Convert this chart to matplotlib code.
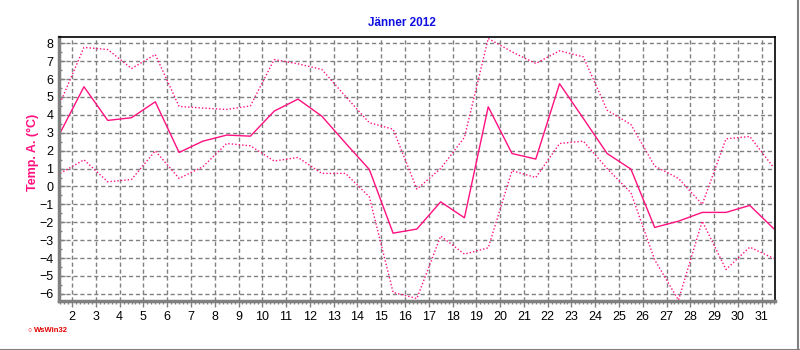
# Jänner 2012 - Temperatur (Mittel, Max, Min)

import matplotlib.pyplot as plt
import numpy as np
from matplotlib.ticker import MultipleLocator

plt.rcParams['font.family'] = ['Liberation Sans', 'DejaVu Sans']

# DATA (one value per day, 1..31)
days = np.arange(1, 32)
t_mean = [3.0, 5.57, 3.69, 3.84, 4.73, 1.90, 2.53, 2.87, 2.81, 4.21, 4.88,
          3.93, 2.42, 0.95, -2.61, -2.38, -0.86, -1.75, 4.45, 1.84, 1.53,
          5.74, 3.80, 1.84, 0.97, -2.29, -1.94, -1.45, -1.45, -1.06, -2.35]
t_max = [4.67, 7.77, 7.65, 6.59, 7.37, 4.47, 4.38, 4.30, 4.50, 7.09, 6.85,
         6.54, 5.03, 3.56, 3.20, -0.15, 1.00, 2.74, 8.27, 7.52, 6.87,
         7.58, 7.24, 4.26, 3.46, 1.14, 0.45, -1.00, 2.66, 2.79, 1.06]
t_min = [0.73, 1.49, 0.26, 0.39, 1.99, 0.45, 1.10, 2.40, 2.27, 1.42, 1.62,
         0.73, 0.73, -0.58, -5.92, -6.26, -2.77, -3.78, -3.43, 0.88, 0.50,
         2.40, 2.53, 1.00, -0.35, -4.10, -6.35, -1.94, -4.64, -3.39, -4.02]
x_labels = [str(d) for d in range(2, 32)]

line_col = '#ff1080'
grid_col = '#808080'

fig = plt.figure(figsize=(8, 3.5), dpi=100)
ax = fig.add_axes([59 / 800, 1 - 301 / 350, 716 / 800, 264 / 350])

# values are plotted in the middle of each day
x = days + 0.5
ax.plot(x, t_max, color=line_col, lw=1.0, ls=(0, (1, 1.5)))
ax.plot(x, t_min, color=line_col, lw=1.0, ls=(0, (1, 1.5)))
ax.plot(x, t_mean, color=line_col, lw=1.0, ls='-')

ax.set_xlim(1.45, 31.56)
ax.set_ylim(-6.4, 8.35)

ax.set_xticks(range(2, 32))
ax.set_xticklabels(x_labels)
ax.xaxis.set_minor_locator(MultipleLocator(1 / 6))
ax.set_yticks(range(-6, 9))
ax.yaxis.set_minor_locator(MultipleLocator(0.5))

ax.grid(True, which='major', color=grid_col, ls=(0, (3, 2)), lw=1.0)

ax.tick_params(axis='x', which='major', direction='out', length=4, width=1,
               color=grid_col, labelsize=9, pad=3)
ax.tick_params(axis='x', which='minor', direction='out', length=2.5, width=1,
               color=grid_col)
ax.tick_params(axis='y', which='major', direction='in', length=4, width=1,
               color=grid_col, labelsize=9, pad=4)
ax.tick_params(axis='y', which='minor', direction='in', length=2, width=1,
               color=grid_col)

for side in ['left', 'bottom']:
    ax.spines[side].set_color(grid_col)
    ax.spines[side].set_linewidth(2.5)
for side in ['top', 'right']:
    ax.spines[side].set_color('black')
    ax.spines[side].set_linewidth(1.2)

fig.text(402 / 800, 1 - 23 / 350, 'Jänner 2012', color='#1010e0',
         fontsize=8.5, fontweight='bold', ha='center', va='center')
fig.text(33 / 800, 1 - 152 / 350, 'Temp. A. (°C)', color=line_col,
         fontsize=9, fontweight='bold', rotation=90, ha='center', va='center')

# little program mark at the bottom left
fig.text(34 / 800, 1 - 331 / 350, 'WsWin32', color='#e00000',
         fontsize=5.5, fontweight='bold', ha='left', va='center')
fig.text(29.5 / 800, 1 - 330.5 / 350, '\u25cb', color='#e00000',
         fontsize=5, fontweight='bold', ha='center', va='center')

# grey frame lines at right and bottom of the picture
fig.add_artist(plt.Line2D([0, 1], [0.5 / 350, 0.5 / 350], color=grid_col,
                          lw=1.5, transform=fig.transFigure))
fig.add_artist(plt.Line2D([797.5 / 800, 797.5 / 800], [0, 1], color=grid_col,
                          lw=1.5, transform=fig.transFigure))

plt.savefig('out.png', dpi=100)
plt.close()
